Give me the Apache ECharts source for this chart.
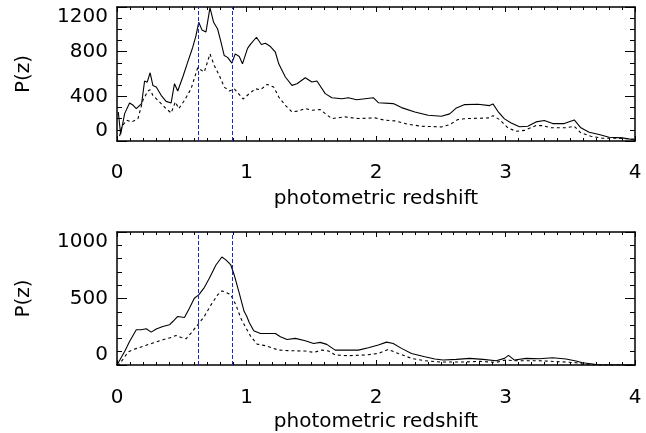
<!DOCTYPE html>
<html>
<head>
<meta charset="utf-8">
<script src="https://cdn.jsdelivr.net/npm/echarts@6/dist/echarts.min.js"></script>
<style>
html,body{margin:0;padding:0;background:#fff;}
#chart{width:646px;height:433px;}
</style>
</head>
<body>
<div id="chart"></div>
<script>
// photometric redshift values and P(z)
var xTicks = [0, 1, 2, 3, 4];
var yTicksTop = [0, 400, 800, 1200];
var yTicksBottom = [0, 500, 1000];
var xTitle = 'photometric redshift';
var yTitle = 'P(z)';
var markerZ = [0.625, 0.89];

var topSolid = [[0.01,260],[0.028,60],[0.059,245],[0.097,341],[0.125,320],[0.149,290],[0.19,335],[0.213,537],[0.233,527],[0.256,611],[0.277,498],[0.303,483],[0.341,409],[0.379,355],[0.418,341],[0.444,513],[0.469,448],[0.508,573],[0.546,706],[0.585,840],[0.61,944],[0.631,1063],[0.656,995],[0.687,977],[0.718,1195],[0.746,1063],[0.777,1003],[0.803,885],[0.828,765],[0.854,749],[0.887,697],[0.913,780],[0.944,756],[0.969,691],[1.008,830],[1.033,870],[1.077,929],[1.115,864],[1.146,876],[1.185,846],[1.223,795],[1.249,691],[1.3,573],[1.351,498],[1.39,513],[1.454,566],[1.505,528],[1.544,537],[1.608,424],[1.659,388],[1.736,379],[1.787,388],[1.851,370],[1.915,379],[1.979,388],[2.018,343],[2.133,335],[2.197,299],[2.3,260],[2.403,230],[2.505,221],[2.569,243],[2.621,296],[2.685,326],[2.787,329],[2.877,317],[2.903,332],[2.941,266],[2.992,198],[3.044,162],[3.108,127],[3.172,132],[3.236,171],[3.3,183],[3.364,156],[3.454,156],[3.531,189],[3.582,118],[3.646,79],[3.723,58],[3.8,34],[3.902,28],[3.979,13],[4.0,10]];

var topDashed = [[0.02,43],[0.036,127],[0.074,186],[0.113,170],[0.162,201],[0.2,364],[0.238,448],[0.256,459],[0.277,409],[0.341,335],[0.379,290],[0.418,251],[0.451,350],[0.477,290],[0.521,364],[0.572,468],[0.623,656],[0.674,617],[0.718,780],[0.751,676],[0.79,587],[0.828,483],[0.867,448],[0.905,468],[0.938,424],[0.974,376],[1.021,424],[1.069,468],[1.108,459],[1.159,507],[1.21,483],[1.249,394],[1.3,319],[1.351,260],[1.403,269],[1.454,290],[1.505,275],[1.569,281],[1.608,245],[1.659,201],[1.762,216],[1.864,201],[1.992,207],[2.069,186],[2.146,180],[2.249,150],[2.351,132],[2.505,126],[2.569,147],[2.633,192],[2.697,201],[2.8,204],[2.877,207],[2.903,227],[2.954,192],[3.018,118],[3.082,87],[3.146,95],[3.236,138],[3.287,138],[3.351,118],[3.467,118],[3.531,132],[3.582,73],[3.659,43],[3.749,25],[3.851,25],[3.979,18],[4.0,16]];

var bottomSolid = [[0.0,0],[0.059,102],[0.097,177],[0.149,265],[0.187,265],[0.226,272],[0.264,247],[0.303,270],[0.354,290],[0.405,302],[0.431,327],[0.469,365],[0.521,357],[0.559,427],[0.597,502],[0.631,527],[0.674,582],[0.713,652],[0.764,752],[0.81,812],[0.841,790],[0.879,752],[0.905,677],[0.944,540],[0.982,402],[1.0,370],[1.021,320],[1.056,257],[1.108,237],[1.223,237],[1.262,212],[1.313,192],[1.377,200],[1.454,182],[1.518,162],[1.569,170],[1.62,155],[1.685,112],[1.762,112],[1.864,112],[1.941,130],[2.018,150],[2.082,172],[2.133,162],[2.197,125],[2.274,87],[2.377,62],[2.454,45],[2.518,38],[2.621,42],[2.723,50],[2.826,42],[2.928,32],[2.992,50],[3.023,72],[3.069,37],[3.159,50],[3.262,47],[3.364,55],[3.467,45],[3.544,30],[3.595,17],[3.672,7],[3.723,0],[4.0,0]];

var bottomDashed = [[0.0,0],[0.02,7],[0.085,97],[0.123,115],[0.2,140],[0.277,165],[0.354,190],[0.418,207],[0.456,222],[0.495,207],[0.533,197],[0.572,240],[0.623,302],[0.674,365],[0.726,452],[0.777,527],[0.81,557],[0.841,547],[0.879,527],[0.918,452],[0.956,352],[0.995,280],[1.033,215],[1.082,157],[1.146,145],[1.249,112],[1.351,107],[1.454,105],[1.518,95],[1.582,112],[1.633,105],[1.685,75],[1.787,70],[1.915,75],[2.018,87],[2.095,117],[2.172,87],[2.274,50],[2.377,32],[2.505,22],[2.646,22],[2.8,27],[2.928,20],[3.0,37],[3.082,32],[3.262,32],[3.467,22],[3.544,17],[3.621,2],[3.75,0],[4.0,0]];

var FONT = 'DejaVu Sans';
var BLACK = '#000';
var BLUE = '#2020d8';

function xAx(gi, pos, gap, margin) {
  var main = pos === 'bottom';
  return {
    type: 'value', gridIndex: gi, position: pos,
    min: xTicks[0], max: xTicks[xTicks.length - 1], interval: 1,
    name: main ? xTitle : '', nameLocation: 'middle', nameGap: gap,
    nameTextStyle: {fontFamily: FONT, fontSize: 20, color: BLACK},
    axisLine: {show: true, onZero: false, lineStyle: {color: BLACK, width: 1.5}},
    axisTick: {show: true, inside: true, length: 5, lineStyle: {color: BLACK, width: 1}},
    minorTick: {show: true, splitNumber: 10, length: 3, lineStyle: {color: BLACK, width: 1}},
    axisLabel: {show: main, margin: margin, fontFamily: FONT, fontSize: 20, color: BLACK,
      formatter: function (v) { return String(v); }},
    splitLine: {show: false}, minorSplitLine: {show: false}
  };
}
function yAx(gi, pos, ticks, minorN) {
  var main = pos === 'left';
  return {
    type: 'value', gridIndex: gi, position: pos,
    min: ticks[0], max: ticks[ticks.length - 1], interval: ticks[1] - ticks[0],
    name: main ? yTitle : '', nameLocation: 'middle', nameGap: 83, nameRotate: 90,
    nameTextStyle: {fontFamily: FONT, fontSize: 20, color: BLACK},
    axisLine: {show: true, onZero: false, lineStyle: {color: BLACK, width: 1.5}},
    axisTick: {show: true, inside: true, length: 10, lineStyle: {color: BLACK, width: 1}},
    minorTick: {show: true, splitNumber: minorN, length: 5, lineStyle: {color: BLACK, width: 1}},
    axisLabel: {show: main, margin: 9, fontFamily: FONT, fontSize: 20, color: BLACK,
      verticalAlignMinLabel: 'bottom', verticalAlignMaxLabel: 'top',
      formatter: function (v) { return String(v); }},
    splitLine: {show: false}, minorSplitLine: {show: false}
  };
}
function curve(data, xi, yi, dashed, marks) {
  var s = {
    type: 'line', xAxisIndex: xi, yAxisIndex: yi, data: data,
    showSymbol: false, symbol: 'none', smooth: false, animation: false, silent: true,
    lineStyle: {color: BLACK, width: 1.1, type: dashed ? [3, 3] : 'solid'}
  };
  if (marks) {
    s.markLine = {
      silent: true, symbol: ['none', 'none'], animation: false,
      label: {show: false},
      lineStyle: {color: BLUE, width: 1, type: [4, 2]},
      data: markerZ.map(function (z) { return {xAxis: z}; })
    };
  }
  return s;
}

var chart = echarts.init(document.getElementById('chart'), null, {renderer: 'canvas'});
chart.setOption({
  backgroundColor: '#fff',
  animation: false,
  grid: [
    {left: 117, top: 7, width: 518, height: 134, outerBoundsMode: 'none', containLabel: false},
    {left: 117, top: 232, width: 518, height: 133, outerBoundsMode: 'none', containLabel: false}
  ],
  xAxis: [xAx(0, 'bottom', 48, 22), xAx(0, 'top', 0, 0), xAx(1, 'bottom', 47, 23), xAx(1, 'top', 0, 0)],
  yAxis: [yAx(0, 'left', yTicksTop, 4), yAx(0, 'right', yTicksTop, 4), yAx(1, 'left', yTicksBottom, 5), yAx(1, 'right', yTicksBottom, 5)],
  series: [
    curve(topSolid, 0, 0, false, true),
    curve(topDashed, 0, 0, true, false),
    curve(bottomSolid, 2, 2, false, true),
    curve(bottomDashed, 2, 2, true, false)
  ]
});
</script>
</body>
</html>
